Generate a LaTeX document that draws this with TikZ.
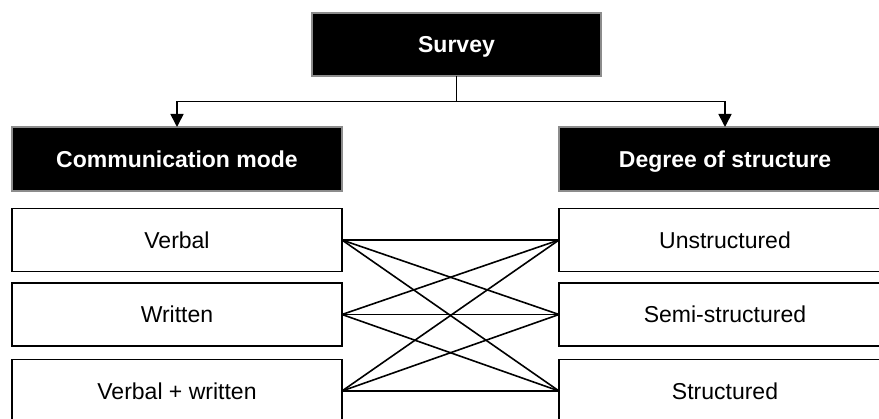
\documentclass[tikz,border=0pt]{standalone}
\usepackage{fontspec}
\setmainfont{Liberation Sans}
\usetikzlibrary{arrows.meta}
\begin{document}
\begin{tikzpicture}[x=1pt,y=-1pt,
  headbox/.style={draw=black!45, fill=black, line width=1.5pt, text=white,
    font=\fontsize{23}{27}\selectfont\bfseries, inner sep=0pt, outer sep=0pt,
    text height=16.5pt, text depth=0pt},
  itembox/.style={draw=black, fill=white, line width=1.6pt,
    font=\fontsize{23}{27}\selectfont, inner sep=0pt, outer sep=0pt,
    text height=16.5pt, text depth=0pt, minimum height=63pt},
  link/.style={line width=1.6pt},
  arr/.style={line width=1.6pt, -{Triangle[length=13pt,width=13pt]}}]
\useasboundingbox (0,0) rectangle (879,419);
\clip (0,0) rectangle (879,419);

% top level
\node[headbox, minimum width=289pt, minimum height=63pt] (survey) at (456.5,44.5) {Survey};

% the two classification headings
\node[headbox, minimum width=330pt, minimum height=64pt] (comm) at (177,159) {Communication mode};
\node[headbox, minimum width=332pt, minimum height=64pt] (degree) at (725,159) {Degree of structure};

% communication modes
\node[itembox, minimum width=330pt] (verbal) at (177,240) {Verbal};
\node[itembox, minimum width=330pt] (written) at (177,314.5) {Written};
\node[itembox, minimum width=330pt] (both) at (177,391) {Verbal + written};

% degrees of structure
\node[itembox, minimum width=332pt] (unstr) at (725,240) {Unstructured};
\node[itembox, minimum width=332pt] (semi) at (725,314.5) {Semi-structured};
\node[itembox, minimum width=332pt] (struct) at (725,391) {Structured};

% tree connectors
\draw[link] (survey.south) -- ++(0,25.5) coordinate (split);
\draw[arr] (split) -| (comm.north);
\draw[arr] (split) -| (degree.north);

% every mode combined with every degree
\foreach \m in {verbal,written,both}
  \foreach \d in {unstr,semi,struct}
    \draw[link] (\m.east) -- (\d.west);
\end{tikzpicture}
\end{document}
